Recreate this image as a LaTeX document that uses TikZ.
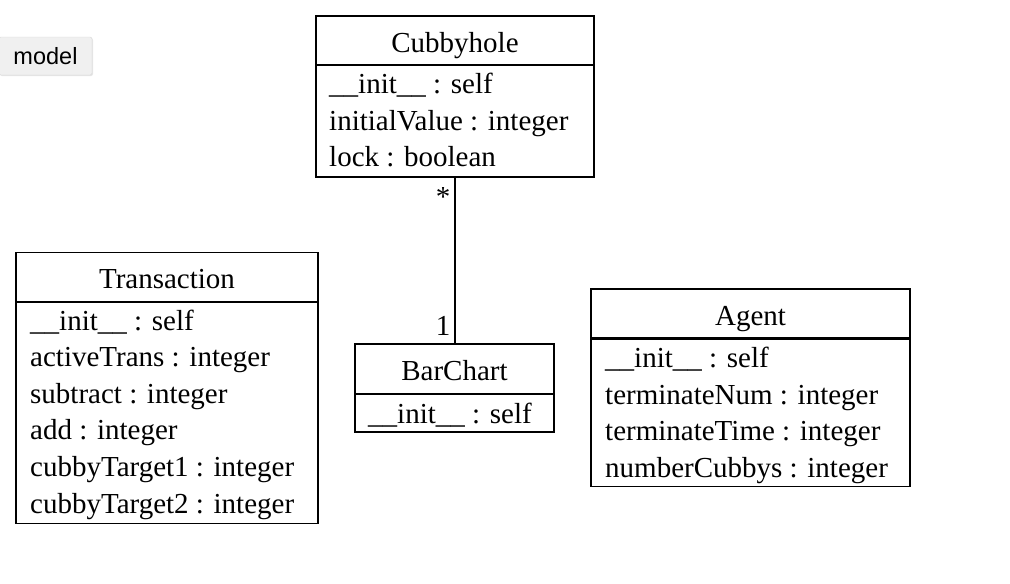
\documentclass[tikz,border=0pt]{standalone}
\usepackage{fontspec}
\setmainfont{Liberation Serif}
\newfontfamily\btnfont{Liberation Sans}
\usetikzlibrary{shadows}
\newcommand{\umlsize}{\fontsize{29}{34}\selectfont}
\newcommand{\dunder}{\_\_}

\begin{document}
\begin{tikzpicture}[x=1pt, y=-1pt,
    classbox/.style={draw, line width=1.8pt, inner sep=0pt},
    divider/.style={line width=2.6pt},
    title/.style={anchor=base, inner sep=0pt, font=\umlsize},
    attr/.style={anchor=base west, inner sep=0pt, font=\umlsize},
    mult/.style={anchor=base, inner sep=0pt, font=\umlsize},
    button/.style={draw=black!16, fill=black!6, rounded corners=2pt,
        minimum width=93pt, minimum height=38pt, inner sep=0pt,
        font=\btnfont\fontsize{23.5}{28}\selectfont,
        drop shadow={opacity=0.2, shadow xshift=1pt, shadow yshift=-1pt}}]
    \useasboundingbox (0,0) rectangle (1010,584);

    % Button in the corner
    \node[button] (model) at (45.5,56) {model};

    % Cubbyhole class
    \node[classbox, minimum width=278pt, minimum height=161pt] (cubbyhole) at (455,96.5) {};
    \node[title] (cubbytitle) at (455,52) {Cubbyhole};
    \draw[divider] (316,65) -- (594,65);
    \foreach \a [count=\i from 0] in {\dunder init\dunder\ : self, initialValue : integer, lock : boolean}
        \node[attr] (cubbyattr\i) at (329,93.5+36.6*\i) {\a};

    % Transaction class
    \node[classbox, minimum width=302pt, minimum height=271pt] (transaction) at (167,388) {};
    \node[title] (transtitle) at (167,288.3) {Transaction};
    \draw[divider] (16,302) -- (318,302);
    \foreach \a [count=\i from 0] in {\dunder init\dunder\ : self, activeTrans : integer,
        subtract : integer, add : integer, cubbyTarget1 : integer, cubbyTarget2 : integer}
        \node[attr] (transattr\i) at (30,330+36.6*\i) {\a};

    % BarChart class
    \node[classbox, minimum width=199pt, minimum height=88pt] (barchart) at (454.5,388) {};
    \node[title] (bartitle) at (454.5,380.5) {BarChart};
    \draw[divider] (355,394) -- (554,394);
    \node[attr] (barattr0) at (368,423.3) {\dunder init\dunder\ : self};

    % Agent class
    \node[classbox, minimum width=319pt, minimum height=197.5pt] (agent) at (750.5,387.75) {};
    \node[title] (agenttitle) at (750.5,325) {Agent};
    \draw[divider] (591,338.5) -- (910,338.5);
    \foreach \a [count=\i from 0] in {\dunder init\dunder\ : self, terminateNum : integer,
        terminateTime : integer, numberCubbys : integer}
        \node[attr] (agentattr\i) at (605,367.5+36.6*\i) {\a};

    % Association between Cubbyhole and BarChart
    \draw[line width=1.8pt] (cubbyhole.south) -- (cubbyhole.south |- barchart.north);
    \node[mult] (manyend) at (443,206) {*};
    \node[mult] (oneend) at (443,335) {1};
\end{tikzpicture}
\end{document}
